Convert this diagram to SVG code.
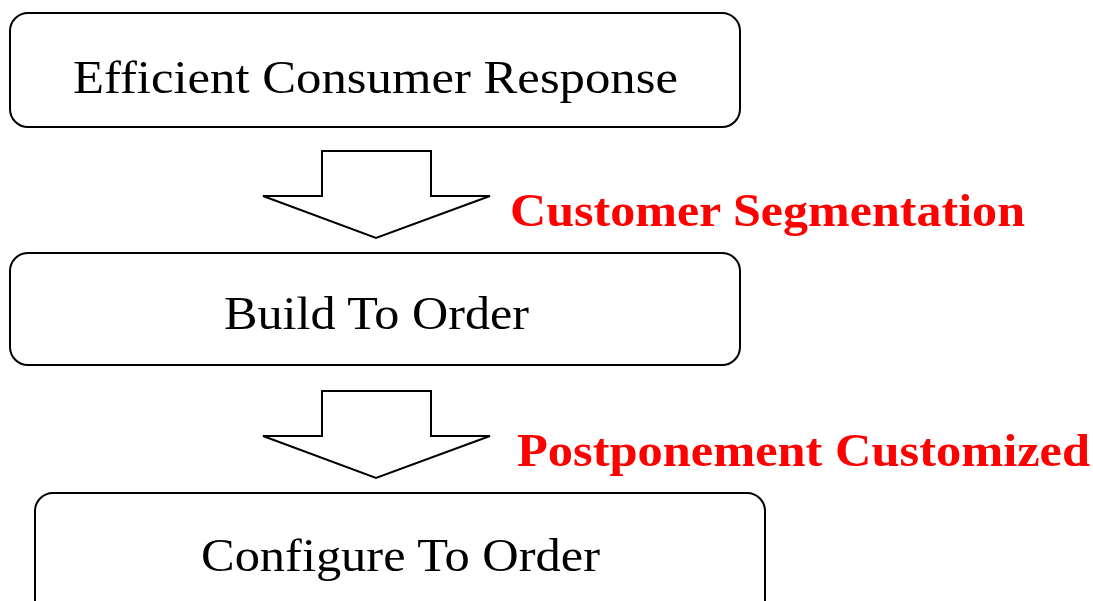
<svg xmlns="http://www.w3.org/2000/svg" width="1093" height="601" viewBox="0 0 1093 601">
  <style>
    .box { fill: #fff; stroke: #000; stroke-width: 2; }
    .arrow { fill: #fff; stroke: #000; stroke-width: 2; stroke-linejoin: miter; }
    .label { font-family: "Liberation Serif", "Times New Roman", serif; font-size: 46px; fill: #000; }
    .note { font-family: "Liberation Serif", "Times New Roman", serif; font-size: 47px; font-weight: bold; fill: #ff0000; }
  </style>
  <rect width="1093" height="601" fill="#fff"/>

  <g id="node-ecr">
    <rect class="box" x="10" y="13" width="730" height="114" rx="18" ry="18"/>
    <text class="label" x="73" y="93" textLength="605" lengthAdjust="spacingAndGlyphs">Efficient Consumer Response</text>
  </g>

  <g id="node-bto">
    <rect class="box" x="10" y="253" width="730" height="112" rx="18" ry="18"/>
    <text class="label" x="224" y="329" textLength="305" lengthAdjust="spacingAndGlyphs">Build To Order</text>
  </g>

  <g id="node-cto">
    <rect class="box" x="35" y="493" width="730" height="130" rx="18" ry="18"/>
    <text class="label" x="201" y="571" textLength="399" lengthAdjust="spacingAndGlyphs">Configure To Order</text>
  </g>

  <g id="connectors">
    <polygon class="arrow" points="322,151 431,151 431,196 490,196 376,238 263,196 322,196"/>
    <polygon class="arrow" points="322,391 431,391 431,436 490,436 376,478 263,436 322,436"/>
  </g>

  <g id="notes">
    <text class="note" x="510" y="226" textLength="515" lengthAdjust="spacingAndGlyphs">Customer Segmentation</text>
    <text class="note" x="517" y="466" textLength="573" lengthAdjust="spacingAndGlyphs">Postponement Customized</text>
  </g>
</svg>
